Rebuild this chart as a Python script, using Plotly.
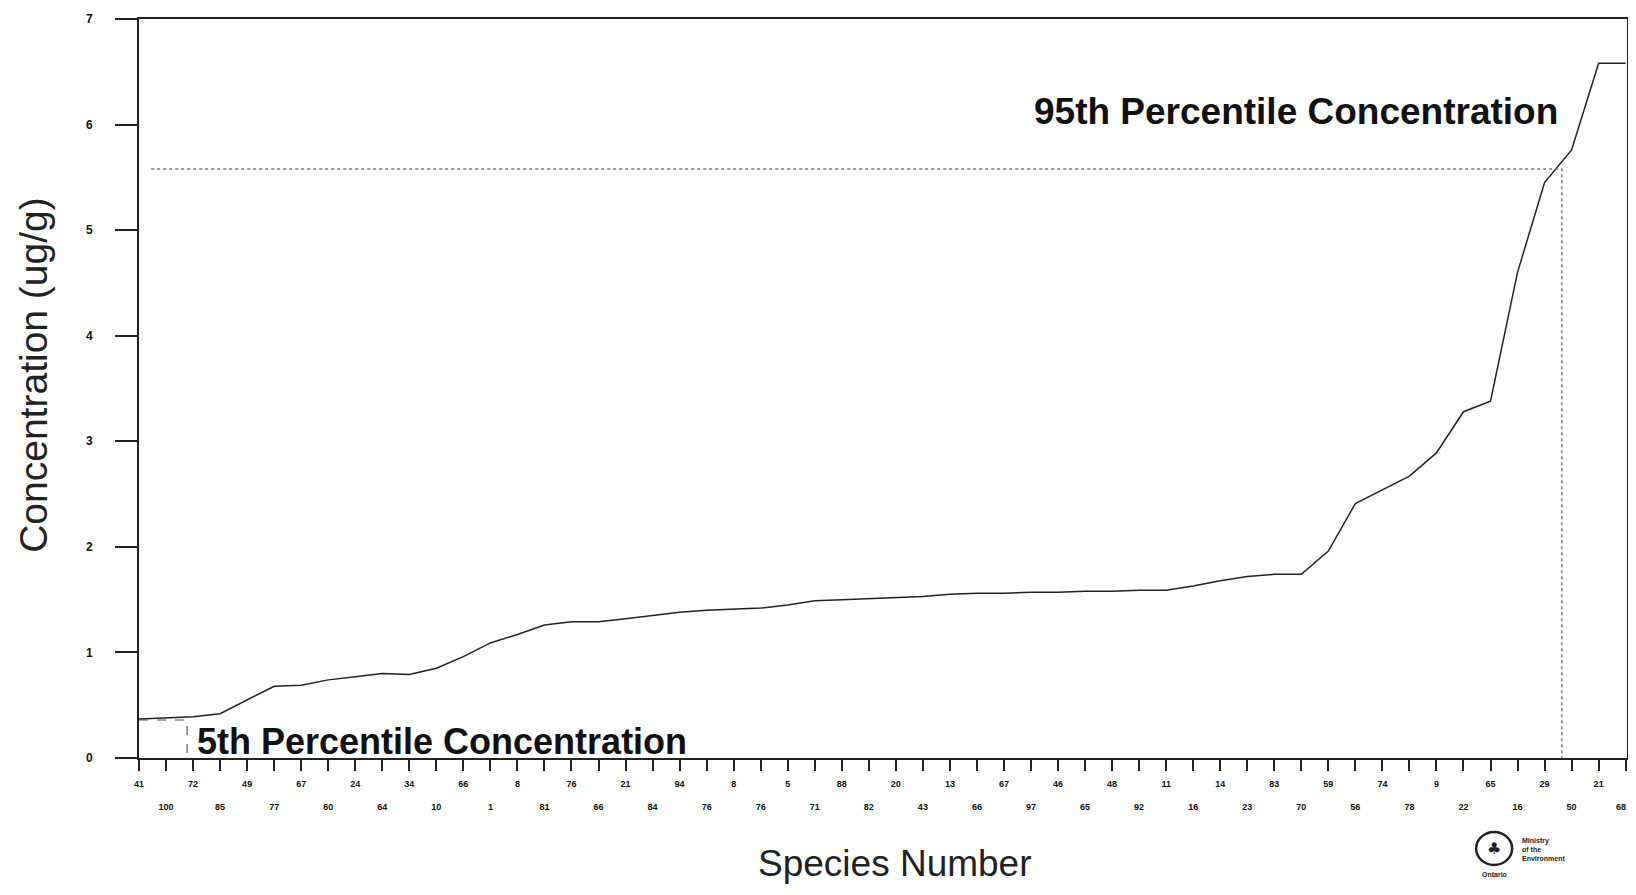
import plotly.graph_objects as go

## data
species = ["41", "100", "72", "85", "49", "77", "67", "60", "24", "64",
           "34", "10", "66", "1", "8", "81", "76", "66", "21", "84",
           "94", "76", "8", "76", "5", "71", "88", "82", "20", "43",
           "13", "66", "67", "97", "46", "65", "48", "92", "11", "16",
           "14", "23", "83", "70", "59", "56", "74", "78", "9", "22",
           "65", "16", "29", "50", "21", "68"]

concentration = [0.37, 0.38, 0.39, 0.42, 0.55, 0.68, 0.69, 0.74, 0.77, 0.80,
                 0.79, 0.85, 0.96, 1.09, 1.17, 1.26, 1.29, 1.29, 1.32, 1.35,
                 1.38, 1.40, 1.41, 1.42, 1.45, 1.49, 1.50, 1.51, 1.52, 1.53,
                 1.55, 1.56, 1.56, 1.57, 1.57, 1.58, 1.58, 1.59, 1.59, 1.63,
                 1.68, 1.72, 1.74, 1.74, 1.96, 2.41, 2.54, 2.67, 2.89, 3.28,
                 3.38, 4.60, 5.45, 5.76, 6.58, 6.58]

p5_value, p5_pos = 0.36, 1.78
p95_value, p95_pos = 5.58, 52.64

idx = list(range(len(species)))
# alternate labels between two rows like the original print-out
ticktext = [s if i % 2 == 0 else "<br><br>" + s for i, s in enumerate(species)]
ticktext[-1] = ""  # last one sits on the frame edge, drawn as annotation below

fig = go.Figure()

fig.add_trace(go.Scatter(x=idx, y=concentration, mode="lines",
                         line=dict(color="#222", width=1.5),
                         showlegend=False, hoverinfo="skip"))

# 95th percentile guide lines
fig.add_trace(go.Scatter(x=[0.45, p95_pos, p95_pos], y=[p95_value, p95_value, 0],
                         mode="lines", line=dict(color="#777", width=1.5, dash="dot"),
                         showlegend=False, hoverinfo="skip"))
# 5th percentile guide lines
fig.add_trace(go.Scatter(x=[0, p5_pos, p5_pos], y=[p5_value, p5_value, 0],
                         mode="lines", line=dict(color="#555", width=1.2, dash="dash"),
                         showlegend=False, hoverinfo="skip"))

fig.add_annotation(x=p95_pos - 0.07, y=6.12, xref="x", yref="y",
                   text="<b>95th Percentile Concentration</b>", showarrow=False,
                   xanchor="right", yanchor="middle",
                   font=dict(family="Liberation Sans", size=37, color="#111"))
fig.add_annotation(x=p5_pos + 0.3, y=0.16, xref="x", yref="y",
                   text="<b>5th Percentile Concentration</b>", showarrow=False,
                   xanchor="left", yanchor="middle",
                   font=dict(family="Liberation Sans", size=36, color="#111"))

fig.add_annotation(x=idx[-1], y=-0.0663, xref="x", yref="paper", text=species[-1],
                   showarrow=False, xanchor="center", yanchor="middle", xshift=-5,
                   font=dict(family="Liberation Sans", size=9, color="#111", weight="bold"))

# axis titles
fig.add_annotation(x=-0.071, y=0.519, xref="paper", yref="paper",
                   text="Concentration (ug/g)", showarrow=False, textangle=-90,
                   xanchor="center", yanchor="middle",
                   font=dict(family="Liberation Sans", size=39, color="#222"))
fig.add_annotation(x=0.508, y=-0.143, xref="paper", yref="paper",
                   text="Species Number", showarrow=False,
                   xanchor="center", yanchor="middle",
                   font=dict(family="Liberation Sans", size=37, color="#222"))

# ministry emblem
fig.add_shape(type="circle", xref="paper", yref="paper",
              x0=0.8986, x1=0.9228, y0=-0.1448, y1=-0.1001,
              line=dict(color="#222", width=2.5))
fig.add_annotation(x=0.9107, y=-0.1225, xref="paper", yref="paper", text="<b>♣</b>",
                   showarrow=False, xanchor="center", yanchor="middle",
                   font=dict(family="DejaVu Sans", size=16, color="#222"))
fig.add_annotation(x=0.928, y=-0.124, xref="paper", yref="paper",
                   xanchor="left", yanchor="middle",
                   text="Ministry<br>of the<br>Environment", showarrow=False, align="left",
                   font=dict(family="Liberation Sans", size=7, color="#222", weight="bold"))
fig.add_annotation(x=0.9107, y=-0.158, xref="paper", yref="paper", text="Ontario",
                   showarrow=False, xanchor="center", yanchor="middle",
                   font=dict(family="Liberation Sans", size=7, color="#222", weight="bold"))

fig.update_xaxes(range=[0, 55.05], tickmode="array", tickvals=idx, ticktext=ticktext,
                 ticks="outside", ticklen=11, tickwidth=2, tickcolor="#222",
                 showline=True, linecolor="#222", linewidth=2, mirror=True,
                 showgrid=False, zeroline=False, tickangle=0, automargin=False,
                 ticklabelstandoff=5,
                 tickfont=dict(family="Liberation Sans", size=9, color="#111", weight="bold"))
fig.update_yaxes(range=[0, 7], tickvals=list(range(8)),
                 ticks="outside", ticklen=22, tickwidth=2, tickcolor="#222",
                 showline=True, linecolor="#222", linewidth=2, mirror=True,
                 showgrid=False, zeroline=False, automargin=False,
                 ticklabelstandoff=20,
                 tickfont=dict(family="Liberation Sans", size=12, color="#111", weight="bold"))

# page body keeps an 8px margin, so the figure is sized to fit the window without scrollbars
fig.update_layout(width=1620, height=879,
                  margin=dict(l=131, r=1, t=11, b=129),
                  paper_bgcolor="white", plot_bgcolor="white")

fig.write_html("out.html")
